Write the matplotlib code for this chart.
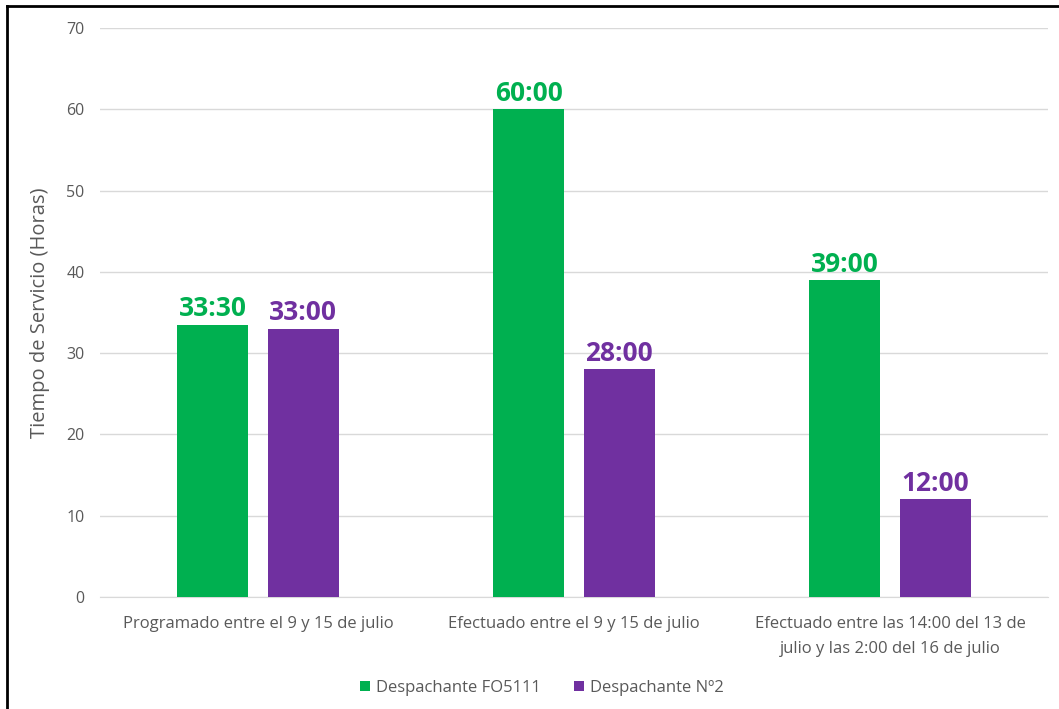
import numpy as np
import matplotlib
matplotlib.use('Agg')
import matplotlib.pyplot as plt
from matplotlib.lines import Line2D

plt.rcParams['font.family'] = ['Open Sans', 'DejaVu Sans']

categories = ['Programado entre el 9 y 15 de julio',
              'Efectuado entre el 9 y 15 de julio',
              'Efectuado entre las 14:00 del 13 de\njulio y las 2:00 del 16 de julio']
series_names = ['Despachante FO5111', 'Despachante Nº2']
fo5111 = [33.5, 60, 39]
n2 = [33, 28, 12]
fo5111_labels = ['33:30', '60:00', '39:00']
n2_labels = ['33:00', '28:00', '12:00']

green = '#00B050'
purple = '#7030A0'
gray_txt = '#595959'

fig = plt.figure(figsize=(10.59, 7.09), dpi=100)
ax = fig.add_axes([0.0944, 0.158, 0.8952, 0.8025])

x = np.arange(len(categories))
w = 0.224
off = 0.143
b1 = ax.bar(x - off, fo5111, w, color=green, label=series_names[0], zorder=3)
b2 = ax.bar(x + off, n2, w, color=purple, label=series_names[1], zorder=3)

for bars, labs, col in [(b1, fo5111_labels, green), (b2, n2_labels, purple)]:
    for r, t in zip(bars, labs):
        ax.text(r.get_x() + r.get_width() / 2, r.get_height() + 0.3, t,
                ha='center', va='bottom', fontsize=19, fontweight='bold', color=col)

ax.set_xlim(-0.5, 2.5)
ax.set_ylim(0, 70)
ax.set_yticks(range(0, 71, 10))
ax.set_xticks(x)
ax.set_xticklabels(categories, fontsize=12, color=gray_txt, linespacing=1.75)
ax.tick_params(axis='y', labelsize=11.5, labelcolor=gray_txt, length=0, pad=11)
ax.tick_params(axis='x', length=0, pad=14)
ax.grid(axis='y', color='#D9D9D9', linewidth=1, zorder=0)
for s in ['top', 'right', 'left']:
    ax.spines[s].set_visible(False)
ax.spines['bottom'].set_color('#D9D9D9')
ax.set_ylabel('Tiempo de Servicio (Horas)', fontsize=14.5, color=gray_txt, labelpad=12)

fig.legend(handles=[b1, b2], labels=series_names, loc='center', bbox_to_anchor=(0.512, 0.030),
           ncol=2, frameon=False, fontsize=12, labelcolor=gray_txt,
           handlelength=0.6, handleheight=0.6, handletextpad=0.35, columnspacing=2.0)

# black frame on the left and top edges
fig.add_artist(Line2D([7 / 1059, 7 / 1059], [0, 1 - 6 / 709], transform=fig.transFigure, color='black', lw=2))
fig.add_artist(Line2D([7 / 1059, 1], [1 - 6 / 709, 1 - 6 / 709], transform=fig.transFigure, color='black', lw=2))

fig.savefig('out.png', dpi=100)
